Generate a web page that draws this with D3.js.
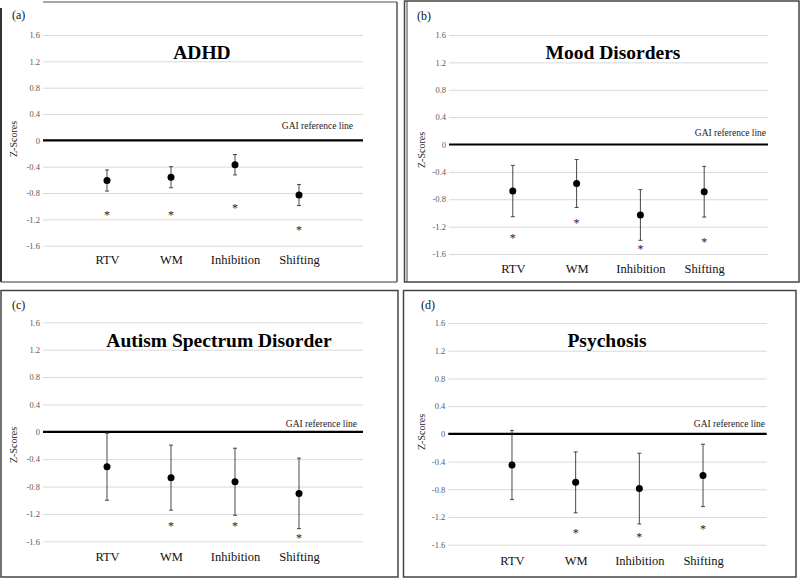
<!DOCTYPE html>
<html><head><meta charset="utf-8">
<script src="https://cdn.jsdelivr.net/npm/d3@7"></script>
<style>
html,body{margin:0;padding:0;background:#fff;}
svg{display:block;}
svg text{font-family:"Liberation Serif","Tinos","Times New Roman",Times,"DejaVu Serif",serif !important;}
</style></head>
<body><svg id="chart" width="800" height="578"></svg>
<script>
// ---- data ----
const categories = ["RTV", "WM", "Inhibition", "Shifting"];
const yTickValues = [1.6, 1.2, 0.8, 0.4, 0, -0.4, -0.8, -1.2, -1.6];
const yTickLabels = ["1.6", "1.2", "0.8", "0.4", "0", "-0.4", "-0.8", "-1.2", "-1.6"];
const panelTitles = ["ADHD", "Mood Disorders", "Autism Spectrum Disorder", "Psychosis"];
const panelLetters = ["(a)", "(b)", "(c)", "(d)"];

const adhdMeans = [-0.61, -0.56, -0.37, -0.83];
const adhdErrors = [0.16, 0.16, 0.155, 0.16];
const adhdStars = [-1.11, -1.11, -0.99, -1.33];

const moodMeans = [-0.68, -0.57, -1.03, -0.69];
const moodErrors = [0.375, 0.35, 0.37, 0.37];
const moodStars = [-1.34, -1.12, -1.50, -1.39];

const asdMeans = [-0.51, -0.67, -0.73, -0.90];
const asdErrors = [0.49, 0.475, 0.49, 0.515];
const asdStars = [null, -1.35, -1.35, -1.52];

const psyMeans = [-0.45, -0.70, -0.79, -0.60];
const psyErrors = [0.50, 0.44, 0.51, 0.45];
const psyStars = [null, -1.40, -1.46, -1.35];

const referenceLabel = "GAI reference line";
const yAxisTitle = "Z-Scores";

// ---- layout (positions only) ----
const FONT = "'Liberation Serif','Tinos','Times New Roman',Times,'DejaVu Serif',serif";
const layouts = [
  {border:[1,2,397,282], px:[43,363], py:[35,245.7], title:[202,52], xlab:264, letter:[12,15], gai:[353,126], zs:[13,139]},
  {border:[404.5,1,799,282], px:[449,768], py:[35,254], title:[613,52], xlab:273, letter:[417,16], gai:[766,133], zs:[421,150]},
  {border:[1,290.5,398,577], px:[43,363], py:[322.3,541.3], title:[219,340], xlab:561, letter:[12,305], gai:[357,424], zs:[13,445]},
  {border:[403.5,290.5,796,577], px:[448.3,766.7], py:[323,544.7], title:[607,340], xlab:565, letter:[421,305], gai:[765,424], zs:[421,432]}
];

const series = [
  {means: adhdMeans, errors: adhdErrors, stars: adhdStars},
  {means: moodMeans, errors: moodErrors, stars: moodStars},
  {means: asdMeans, errors: asdErrors, stars: asdStars},
  {means: psyMeans, errors: psyErrors, stars: psyStars}
];

const svg = d3.select("#chart").attr("font-family", FONT);

series.forEach((s, i) => {
  const L = layouts[i];
  const g = svg.append("g").attr("font-family", FONT);
  const [bx0, by0, bx1, by1] = L.border;

  // panel border
  if (i === 0) {
    // cropped-looking frame: dark left edge, grey top starting right of the corner
    g.append("line").attr("x1", bx0).attr("x2", bx0).attr("y1", by0 + 6).attr("y2", by1)
      .attr("stroke", "#333").attr("stroke-width", 2);
    g.append("line").attr("x1", 43).attr("x2", bx1).attr("y1", by0).attr("y2", by0)
      .attr("stroke", "#888").attr("stroke-width", 1.5);
    g.append("line").attr("x1", bx1).attr("x2", bx1).attr("y1", by0).attr("y2", by1)
      .attr("stroke", "#555").attr("stroke-width", 1.5);
    g.append("line").attr("x1", bx0).attr("x2", bx1).attr("y1", by1).attr("y2", by1)
      .attr("stroke", "#777").attr("stroke-width", 1.5);
  } else {
    g.append("rect")
      .attr("x", bx0).attr("y", by0)
      .attr("width", bx1 - bx0).attr("height", by1 - by0)
      .attr("fill", "none").attr("stroke", "#444").attr("stroke-width", 1.5);
  }
  if (i === 1) {
    g.append("line").attr("x1", bx0 + 2.5).attr("x2", bx0 + 2.5)
      .attr("y1", by0).attr("y2", by1)
      .attr("stroke", "#444").attr("stroke-width", 1);
  }

  const x = d3.scalePoint().domain(categories).range(L.px).padding(1);
  const y = d3.scaleLinear().domain([1.6, -1.6]).range(L.py);

  // y axis with gridlines
  const yAxis = d3.axisLeft(y)
    .tickValues(yTickValues)
    .tickFormat((d, k) => yTickLabels[k])
    .tickSize(-(L.px[1] - L.px[0]))
    .tickPadding(3);
  const ya = g.append("g").attr("transform", `translate(${L.px[0]},0)`).call(yAxis)
    .attr("font-family", FONT);
  ya.select(".domain").remove();
  ya.selectAll(".tick line").attr("stroke", d => d === 0 ? "none" : "#d9d9d9").attr("stroke-width", 1);
  ya.selectAll(".tick text")
    .attr("fill", "#595959")
    .style("font-size", "8.5px");

  // reference line at 0
  g.append("line")
    .attr("x1", L.px[0]).attr("x2", L.px[1])
    .attr("y1", y(0)).attr("y2", y(0))
    .attr("stroke", "#000").attr("stroke-width", 2.2);

  g.append("text")
    .attr("x", L.gai[0]).attr("y", L.gai[1] + 3.2)
    .attr("text-anchor", "end")
    .style("font-size", "9.5px").attr("fill", "#222")
    .text(referenceLabel);

  // x axis labels
  const xAxis = d3.axisBottom(x).tickSize(0).tickPadding(0);
  const xa = g.append("g").attr("transform", `translate(0,${L.xlab})`).call(xAxis)
    .attr("font-family", FONT);
  xa.select(".domain").remove();
  xa.selectAll(".tick text")
    .attr("y", 0).attr("dy", 0)
    .attr("fill", "#111")
    .style("font-size", "12.5px");

  // title
  g.append("text")
    .attr("x", L.title[0]).attr("y", L.title[1] + 6.8)
    .attr("text-anchor", "middle")
    .style("font-size", "19.5px").style("font-weight", "bold").attr("fill", "#000")
    .text(panelTitles[i]);

  // panel letter
  g.append("text")
    .attr("x", L.letter[0]).attr("y", L.letter[1] + 4)
    .style("font-size", "12px").attr("fill", "#111")
    .text(panelLetters[i]);

  // y axis title
  g.append("text")
    .attr("transform", `translate(${L.zs[0] + 3.5},${L.zs[1]}) rotate(-90)`)
    .attr("text-anchor", "middle")
    .style("font-size", "10px").attr("fill", "#222")
    .text(yAxisTitle);

  const pts = categories.map((c, k) => ({c, m: s.means[k], e: s.errors[k], st: s.stars[k]}));

  // error bars
  const eb = g.append("g").attr("stroke", "#333").attr("stroke-width", 0.9);
  eb.selectAll("line.v").data(pts).join("line").attr("class", "v")
    .attr("x1", d => x(d.c)).attr("x2", d => x(d.c))
    .attr("y1", d => y(d.m + d.e)).attr("y2", d => y(d.m - d.e));
  eb.selectAll("line.t").data(pts).join("line").attr("class", "t")
    .attr("x1", d => x(d.c) - 2).attr("x2", d => x(d.c) + 2)
    .attr("y1", d => y(d.m + d.e)).attr("y2", d => y(d.m + d.e));
  eb.selectAll("line.b").data(pts).join("line").attr("class", "b")
    .attr("x1", d => x(d.c) - 2).attr("x2", d => x(d.c) + 2)
    .attr("y1", d => y(d.m - d.e)).attr("y2", d => y(d.m - d.e));

  // points
  g.selectAll("circle.pt").data(pts).join("circle").attr("class", "pt")
    .attr("cx", d => x(d.c)).attr("cy", d => y(d.m)).attr("r", 3.5).attr("fill", "#000");

  // significance asterisks
  g.selectAll("text.star").data(pts.filter(d => d.st !== null)).join("text").attr("class", "star")
    .attr("x", d => x(d.c)).attr("y", d => y(d.st) + 6)
    .attr("text-anchor", "middle")
    .style("font-size", "12px").attr("fill", "#222")
    .text("*");
});
</script>
</body></html>
